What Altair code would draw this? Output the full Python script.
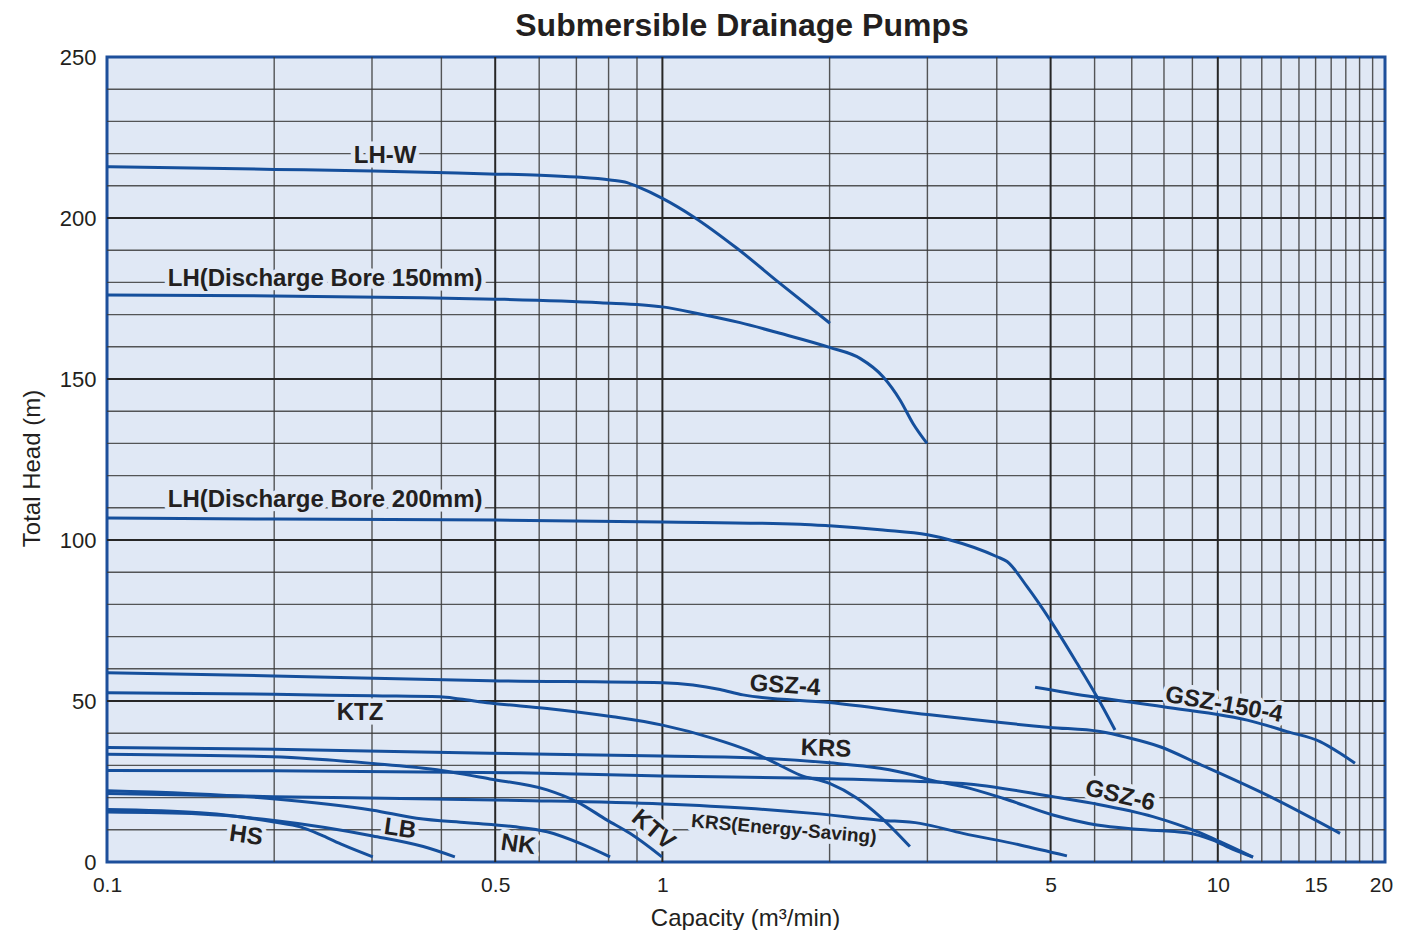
import altair as alt
import pandas as pd

# ---------------- data (capacity m3/min, total head m) ----------------
lhw_q = [0.1, 0.2, 0.301, 0.489, 0.602, 0.702, 0.805, 0.864, 0.900, 1.0, 1.135, 1.362, 1.628, 2.003]
lhw_h = [215.9, 215.1, 214.6, 213.7, 213.3, 212.7, 211.8, 211.0, 209.8, 206.1, 200.5, 190.6, 179.7, 167.3]

lh150_q = [0.1, 0.2, 0.337, 0.5, 0.772, 1.0, 1.168, 1.380, 1.628, 2.0, 2.269, 2.496, 2.678, 2.826, 2.995]
lh150_h = [176.1, 175.8, 175.3, 174.8, 173.7, 172.4, 170.2, 167.5, 164.2, 159.8, 156.4, 150.7, 143.5, 136.2, 130.0]

lh200_q = [0.1, 0.2, 0.5, 1.0, 1.77, 2.0, 2.496, 3.0, 3.295, 4.005, 4.174, 4.535, 4.988, 5.579, 6.06, 6.53]
lh200_h = [106.8, 106.5, 106.2, 105.6, 104.9, 104.4, 103.1, 101.6, 100.0, 94.8, 93.3, 85.5, 75.2, 61.7, 51.3, 41.0]

gsz4_q = [0.1, 0.2, 0.489, 1.0, 1.135, 1.27, 1.397, 2.0, 3.033, 4.988, 6.135, 6.86, 7.87, 9.18, 12.42, 16.6]
gsz4_h = [58.8, 57.8, 56.3, 55.7, 55.0, 53.6, 51.9, 49.5, 45.7, 41.8, 40.5, 38.7, 35.8, 30.7, 20.3, 8.9]

gsz1504_q = [4.688, 5.96, 7.97, 11.57, 13.33, 15.28, 16.6, 17.66]
gsz1504_h = [54.3, 51.3, 48.2, 43.6, 40.5, 37.4, 33.8, 30.7]

ktz_q = [0.1, 0.2, 0.301, 0.398, 0.432, 0.489, 0.620, 0.815, 1.0, 1.233, 1.42, 1.582, 1.77, 2.0, 2.241, 2.465, 2.79]
ktz_h = [52.6, 52.1, 51.6, 51.3, 50.6, 49.4, 47.7, 45.1, 42.5, 38.4, 34.8, 31.1, 27.0, 24.4, 19.8, 14.1, 4.8]

krs_q = [0.1, 0.2, 0.489, 1.0, 1.518, 2.0, 2.465, 2.826, 3.033, 3.477, 4.105, 5.05, 6.06, 7.15, 8.80, 9.80, 10.65, 11.57]
krs_h = [35.6, 35.0, 33.8, 32.9, 32.2, 30.8, 29.1, 27.0, 25.5, 23.4, 19.8, 14.6, 11.5, 10.2, 9.1, 6.8, 3.9, 1.5]

gsz6_q = [0.1, 0.2, 0.554, 1.0, 1.867, 3.033, 3.477, 5.05, 5.96, 7.64, 9.18, 10.09, 11.57]
gsz6_h = [28.4, 28.3, 27.7, 26.7, 26.0, 24.9, 24.4, 20.3, 18.2, 14.1, 9.4, 6.3, 1.5]

krses_q = [0.1, 0.199, 0.386, 0.554, 1.0, 1.42, 1.867, 2.465, 2.91, 3.477, 4.405, 5.35]
krses_h = [21.3, 20.3, 19.6, 19.1, 18.0, 16.7, 15.1, 13.0, 12.0, 8.9, 5.3, 1.9]

ktv_q = [0.1, 0.199, 0.301, 0.386, 0.489, 0.620, 0.702, 0.795, 0.874, 0.998]
ktv_h = [33.5, 32.7, 30.6, 28.8, 25.8, 22.4, 18.7, 13.0, 8.9, 1.6]

nk_q = [0.1, 0.194, 0.301, 0.361, 0.445, 0.538, 0.620, 0.711, 0.805]
nk_h = [22.1, 19.8, 16.1, 13.6, 12.2, 11.0, 9.4, 5.8, 1.6]

hs_q = [0.1, 0.147, 0.169, 0.2, 0.223, 0.245, 0.266, 0.301]
hs_h = [16.3, 15.3, 14.3, 12.4, 10.9, 8.1, 5.3, 1.6]

lb_q = [0.1, 0.147, 0.2, 0.301, 0.371, 0.423]
lb_h = [15.5, 14.9, 12.9, 8.1, 4.8, 1.6]

# labels
label_text = ["LH-W", "LH(Discharge Bore 150mm)", "LH(Discharge Bore 200mm)", "GSZ-4", "KTZ",
              "KRS", "GSZ-150-4", "GSZ-6", "KRS(Energy-Saving)", "KTV", "NK", "LB", "HS"]
label_q = [0.3167, 0.247, 0.247, 1.662, 0.2855, 1.97, 10.26, 6.67, 1.655, 0.962, 0.55, 0.337, 0.178]
label_h = [219.3, 181.1, 112.4, 54.7, 46.3, 35.1, 48.8, 20.5, 10.2, 9.9, 5.3, 10.2, 8.1]
label_angle = [0, 0, 0, 4, 0, 2, 10, 13, 5, 40, 8, 8, 8]

title_text = "Submersible Drainage Pumps"

# axes / grid
x_ticks = [0.1, 0.5, 1, 5, 10, 15, 20]
y_ticks = [0, 50, 100, 150, 200, 250]
minor_x = [0.2, 0.3, 0.4, 0.6, 0.7, 0.8, 0.9, 2, 3, 4, 6, 7, 8, 9,
           11, 12, 13, 14, 15, 16, 17, 18, 19]
major_x = [0.5, 1, 5, 10]
minor_y = [10, 20, 30, 40, 60, 70, 80, 90, 110, 120, 130, 140, 160, 170, 180, 190,
           210, 220, 230, 240]
major_y = [50, 100, 150, 200]

# ---------------- styling ----------------
FONT = "Liberation Sans"
TXT = "#231F20"
BG = "#E0E8F5"
BLUE = "#154F9C"
BORDER = "#1D4F9B"
GRID = "#3A3A3A"

curves = [
    ("LH-W", lhw_q, lhw_h), ("LH150", lh150_q, lh150_h), ("LH200", lh200_q, lh200_h),
    ("GSZ-4", gsz4_q, gsz4_h), ("GSZ-150-4", gsz1504_q, gsz1504_h), ("KTZ", ktz_q, ktz_h),
    ("KRS", krs_q, krs_h), ("GSZ-6", gsz6_q, gsz6_h), ("KRS-ES", krses_q, krses_h),
    ("KTV", ktv_q, ktv_h), ("NK", nk_q, nk_h), ("HS", hs_q, hs_h), ("LB", lb_q, lb_h),
]
rows = []
for name, qs, hs in curves:
    for i, (q, h) in enumerate(zip(qs, hs)):
        rows.append({"series": name, "q": q, "h": h, "i": i})
df = pd.DataFrame(rows)

x_scale = alt.Scale(type="log", domain=[0.1, 20], nice=False)
y_scale = alt.Scale(domain=[0, 250], nice=False, zero=False)

x_axis = alt.Axis(values=x_ticks, format="~g", grid=False, ticks=False, domain=False,
                  labelFont=FONT, labelFontSize=21, labelColor=TXT, labelPadding=12,
                  labelFlush=False, labelOverlap=False,
                  labelOffset={"condition": {"test": "datum.value >= 20", "value": -4},
                               "value": 0},
                  title="Capacity (m³/min)", titleFont=FONT, titleFontSize=24,
                  titleFontWeight="normal", titleColor=TXT, titleX=638, titleY=63,
                  titleBaseline="alphabetic", titleAlign="center")
y_axis = alt.Axis(values=y_ticks, grid=False, ticks=False, domain=False,
                  labelFont=FONT, labelFontSize=22, labelColor=TXT, labelPadding=11,
                  labelOverlap=False,
                  title="Total Head (m)", titleFont=FONT, titleFontSize=24,
                  titleFontWeight="normal", titleColor=TXT, titleX=-75, titleY=411,
                  titleAngle=270, titleBaseline="middle", titleAlign="center")


def X():
    return alt.X("q:Q", scale=x_scale, axis=x_axis)


def Y():
    return alt.Y("h:Q", scale=y_scale, axis=y_axis)


layers = []
layers.append(alt.Chart(pd.DataFrame({"q": minor_x})).mark_rule(
    color=GRID, strokeWidth=1.4, opacity=0.85).encode(x=X()))
layers.append(alt.Chart(pd.DataFrame({"h": minor_y})).mark_rule(
    color=GRID, strokeWidth=1.4, opacity=0.85).encode(y=Y()))
layers.append(alt.Chart(pd.DataFrame({"q": major_x})).mark_rule(
    color="#262626", strokeWidth=2).encode(x=X()))
layers.append(alt.Chart(pd.DataFrame({"h": major_y})).mark_rule(
    color="#262626", strokeWidth=2).encode(y=Y()))

label_layers_halo = []
label_layers_text = []
for t, lq, lh, a in zip(label_text, label_q, label_h, label_angle):
    size = 19 if t.startswith("KRS(") else 24
    d = pd.DataFrame({"q": [lq], "h": [lh], "t": [t]})
    common = dict(angle=a, font=FONT, fontSize=size, fontWeight="bold",
                  align="center", baseline="middle")
    label_layers_halo.append(alt.Chart(d).mark_text(
        fill=BG, stroke=BG, strokeWidth=9, strokeJoin="round", **common
    ).encode(x=X(), y=Y(), text="t:N"))
    label_layers_text.append(alt.Chart(d).mark_text(color=TXT, **common).encode(
        x=X(), y=Y(), text="t:N"))

layers += label_layers_halo

layers.append(alt.Chart(df).mark_line(
    color=BLUE, strokeWidth=3, interpolate="monotone", clip=True
).encode(x=X(), y=Y(), detail="series:N", order="i:Q"))

layers += label_layers_text

# chart title drawn as a text mark above the plot area
layers.append(alt.Chart(pd.DataFrame({"t": [title_text]})).mark_text(
    font=FONT, fontSize=32, fontWeight="bold", color=TXT, align="center",
    baseline="alphabetic"
).encode(x=alt.value(635), y=alt.value(-21), text="t:N"))

chart = alt.layer(*layers).properties(
    width=1278, height=805,
    autosize=alt.AutoSizeParams(type="none"),
    padding={"left": 99, "top": 49, "right": 9, "bottom": 68},
).configure_view(fill=BG, stroke=BORDER, strokeWidth=3)

chart.save("out.html", embed_options={"renderer": "svg", "actions": False})
